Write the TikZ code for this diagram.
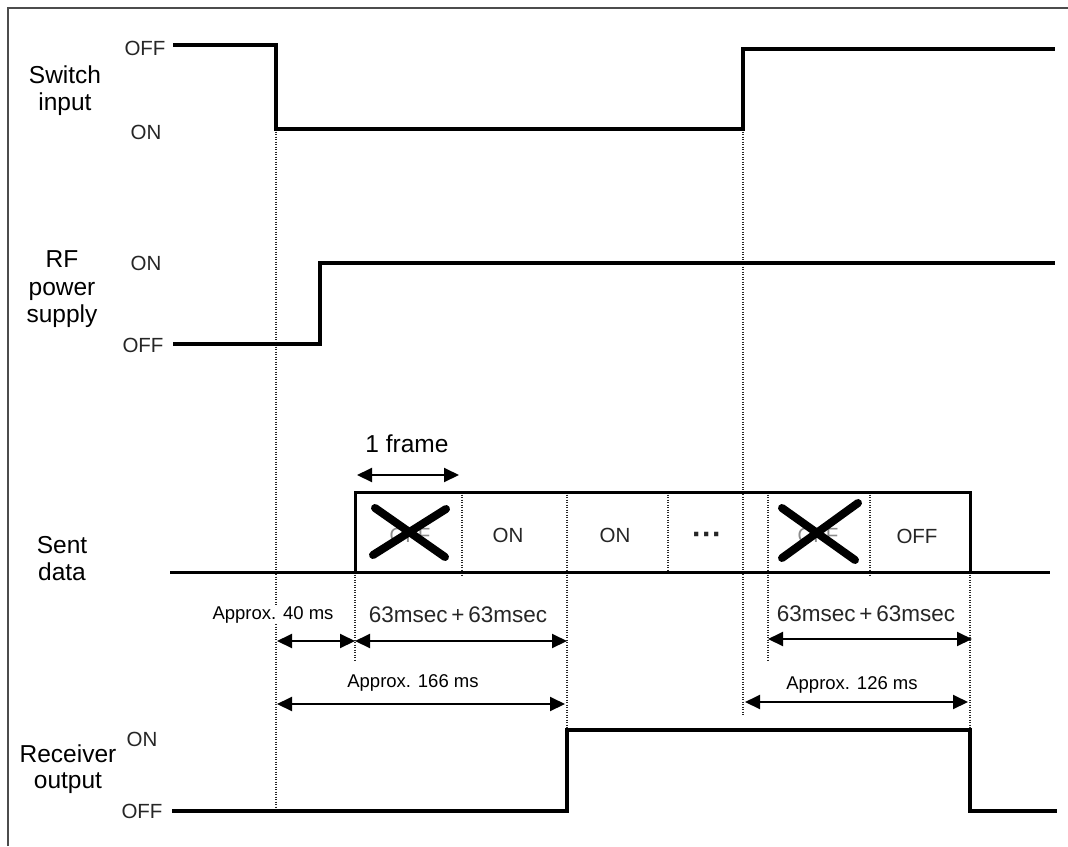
\documentclass[tikz,border=0pt]{standalone}
\usepackage{fontspec}
\setmainfont{Liberation Sans}
\usetikzlibrary{arrows.meta}
\begin{document}
\begin{tikzpicture}[x=1pt,y=-1pt,
  sig/.style={line width=3.4pt, line join=miter, line cap=butt},
  boxline/.style={line width=3pt, line join=miter},
  dots/.style={line width=2pt, black!85, dash pattern=on 1.4pt off 1.1pt},
  dim/.style={line width=2pt, {Triangle[length=15pt,width=14pt]}-{Triangle[length=15pt,width=14pt]}},
  cross/.style={line width=8pt, line cap=round},
  lbl/.style={font=\fontsize{24.5}{27}\selectfont, anchor=base, inner sep=0pt},
  lvl/.style={font=\fontsize{20.5}{22}\selectfont, anchor=base, inner sep=0pt, text=black!85},
  hid/.style={lvl, text=black!45},
  apx/.style={font=\fontsize{18.5}{20}\selectfont, anchor=base, inner sep=1pt, fill=white},
  msec/.style={font=\fontsize{22.5}{24}\selectfont, anchor=base, inner sep=0pt, text=black!85},
  frame/.style={line width=2.4pt, black!70}
]
\useasboundingbox (0,0) rectangle (1068,846);
\fill[white] (0,0) rectangle (1068,846);
% border
\draw[frame] (8,846) -- (8,8) -- (1068,8);

% ---------- left labels ----------
\node[lbl] (sw1) at (65,83) {Switch};
\node[lbl] (sw2) at (65,110) {input};
\node[lbl] (rf1) at (62,267) {RF};
\node[lbl] (rf2) at (62,295) {power};
\node[lbl] (rf3) at (62,322) {supply};
\node[lbl] (sd1) at (62,553) {Sent};
\node[lbl] (sd2) at (62,580) {data};
\node[lbl] (ro1) at (68,762) {Receiver};
\node[lbl] (ro2) at (68,788) {output};

% level labels
\node[lvl] (swoff) at (145,55) {OFF};
\node[lvl] (swon)  at (146,139) {ON};
\node[lvl] (rfon)  at (146,270) {ON};
\node[lvl] (rfoff) at (143,352) {OFF};
\node[lvl] (roon)  at (142,746) {ON};
\node[lvl] (rooff) at (142,818) {OFF};

% ---------- key coordinates ----------
\coordinate (s0) at (173,45);
\coordinate (s1) at (276,45);
\coordinate (s2) at (276,129);
\coordinate (s3) at (743,129);
\coordinate (s4) at (743,49);
\coordinate (s5) at (1055,49);

\coordinate (r0) at (173,344);
\coordinate (r1) at (320,344);
\coordinate (r2) at (320,263);
\coordinate (r3) at (1055,263);

\coordinate (d0) at (170,572);
\coordinate (d1) at (1050,572);
\coordinate (bl) at (355,572);
\coordinate (tl) at (355,492);
\coordinate (tr) at (970,492);
\coordinate (br) at (970,572);

\coordinate (o0) at (172,811);
\coordinate (o1) at (567,811);
\coordinate (o2) at (567,730);
\coordinate (o3) at (970,730);
\coordinate (o4) at (970,811);
\coordinate (o5) at (1057,811);

% ---------- dotted verticals ----------
\draw[dots] (s2) -- (276,811);
\draw[dots] (s3) -- (743,715);
\draw[dots] (bl) -- (355,660);
\draw[dots] (462,492) -- (462,576);
\draw[dots] (567,492) -- (o2);
\draw[dots] (668,492) -- (668,574);
\draw[dots] (768,492) -- (768,660);
\draw[dots] (870,492) -- (870,576);
\draw[dots] (br) -- (o3);

% ---------- signals ----------
\draw[sig] (s0) -- (s1) -- (s2) -- (s3) -- (s4) -- (s5);
\draw[sig] (r0) -- (r1) -- (r2) -- (r3);
\draw[boxline] (d0) -- (d1);
\draw[boxline] (bl) -- (tl) -- (tr) -- (br);
\draw[sig] (o0) -- (o1) -- (o2) -- (o3) -- (o4) -- (o5);

% ---------- cell contents ----------
\node[hid] (c1) at (410,542) {OFF};
\node[lvl] (c2) at (508,542) {ON};
\node[lvl] (c3) at (615,542) {ON};
\node[lvl, font=\fontsize{30}{30}\selectfont\bfseries] (c4) at (707,544) {···};
\node[hid] (c5) at (818,542) {OFF};
\node[lvl] (c6) at (917,543) {OFF};

\draw[cross] (375,508) -- (445,557);
\draw[cross] (446,509) -- (373,555);
\draw[cross] (782,508) -- (855,560);
\draw[cross] (858,503) -- (782,558);

% ---------- frame arrow ----------
\node[lbl] (fr) at (407,452) {1 frame};
\coordinate (fa) at (357,475);
\coordinate (fb) at (459,475);
\draw[dim] (fa) -- (fb);

% ---------- dimension arrows ----------
\coordinate (a40l) at (277,641);
\coordinate (a40r) at (355,641);
\coordinate (a63r) at (567,641);
\coordinate (a166l) at (277,704);
\coordinate (a166r) at (565,704);
\coordinate (b63l) at (768,639);
\coordinate (b63r) at (972,639);
\coordinate (b126l) at (745,702);
\coordinate (b126r) at (968,702);

\draw[dim] (a40l) -- (a40r);
\draw[dim] (a40r) -- (a63r);
\draw[dim] (a166l) -- (a166r);
\draw[dim] (b63l) -- (b63r);
\draw[dim] (b126l) -- (b126r);

\node[apx] (t40) at (273,619) {Approx. 40 ms};
\node[msec] (t63a) at (458,622) {63msec\,+\,63msec};
\node[apx] (t166) at (413,687) {Approx. 166 ms};
\node[msec] (t63b) at (866,621) {63msec\,+\,63msec};
\node[apx] (t126) at (852,689) {Approx. 126 ms};
\end{tikzpicture}
\end{document}
